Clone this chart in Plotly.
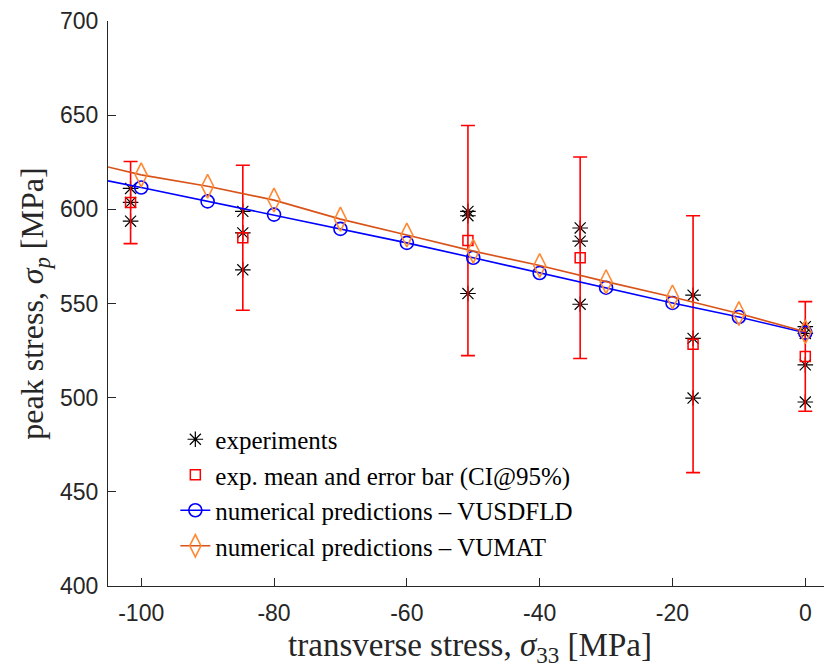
import plotly.graph_objects as go

# ---------------- data ----------------
# experiments (transverse stress, peak stress)
exp_x = [-101.6, -101.6, -101.6,
         -84.7, -84.7, -84.7,
         -50.8, -50.8, -50.8,
         -33.9, -33.9, -33.9,
         -16.9, -16.9, -16.9,
         0.0, 0.0, 0.0, 0.0]
exp_y = [611.1, 603.7, 593.7,
         598.9, 587.5, 567.9,
         598.9, 596.6, 555.3,
         590.1, 583.1, 549.6,
         554.4, 531.5, 499.8,
         537.7, 534.1, 517.4, 497.7]

# experimental means and 95% CI half-widths
mean_x = [-101.6, -84.7, -50.8, -33.9, -16.9, 0.0]
mean_y = [603.6, 584.9, 583.4, 574.3, 528.4, 521.9]
ci_half = [21.8, 38.5, 61.1, 53.5, 68.2, 29.1]

# numerical predictions
num_x = [-100, -90, -80, -70, -60, -50, -40, -30, -20, -10, 0]
vusdfld_y = [611.6, 604.2, 597.2, 589.6, 582.2, 574.3, 566.2, 558.4, 550.3, 542.8, 534.5]
vumat_y = [618.3, 612.3, 604.9, 594.8, 586.4, 577.8, 570.2, 561.6, 553.5, 544.7, 535.0]

# line continuation to the left axis edge
ext_x = [-105, -100]
vusdfld_ext = [615.1, 611.6]
vumat_ext = [622.5, 618.3]

x_ticks = [-100, -80, -60, -40, -20, 0]
x_tick_labels = ["-100", "-80", "-60", "-40", "-20", "0"]
y_ticks = [400, 450, 500, 550, 600, 650, 700]
y_tick_labels = ["400", "450", "500", "550", "600", "650", "700"]

# ---------------- styling ----------------
BLUE = "#0000FF"
ORANGE_LINE = "#D95319"
ORANGE_MARK = "#FF8833"
RED = "#FF0000"
AXIS = "#262626"
SERIF = "Liberation Serif, Times New Roman, serif"
SANS = "Liberation Sans, Arial, sans-serif"

fig = go.Figure()

fig.add_trace(go.Scatter(
    x=exp_x, y=exp_y, mode="markers", name="experiments",
    marker=dict(symbol="asterisk-open", size=13, color="black",
                line=dict(color="black", width=1.2)),
))

fig.add_trace(go.Scatter(
    x=mean_x, y=mean_y, mode="markers",
    name="exp. mean and error bar (CI@95%)",
    marker=dict(symbol="square-open", size=10, color=RED,
                line=dict(color=RED, width=1.5)),
    error_y=dict(type="data", array=ci_half, visible=True,
                 color=RED, thickness=1.6, width=7),
))

fig.add_trace(go.Scatter(
    x=ext_x, y=vusdfld_ext, mode="lines", showlegend=False,
    line=dict(color=BLUE, width=1.6), hoverinfo="skip",
))
fig.add_trace(go.Scatter(
    x=num_x, y=vusdfld_y, mode="lines+markers",
    name="numerical predictions – VUSDFLD",
    line=dict(color=BLUE, width=1.6),
    marker=dict(symbol="circle-open", size=13, color=BLUE,
                line=dict(color=BLUE, width=1.6)),
))

fig.add_trace(go.Scatter(
    x=ext_x, y=vumat_ext, mode="lines", showlegend=False,
    line=dict(color=ORANGE_LINE, width=1.6), hoverinfo="skip",
))
fig.add_trace(go.Scatter(
    x=num_x, y=vumat_y, mode="lines+markers",
    name="numerical predictions – VUMAT",
    line=dict(color=ORANGE_LINE, width=1.6),
    marker=dict(symbol="diamond-tall-open", size=17, color=ORANGE_MARK,
                line=dict(color=ORANGE_MARK, width=1.6)),
))

fig.update_layout(
    width=832, height=671,
    margin=dict(l=100, r=8, t=13, b=93),
    paper_bgcolor="white", plot_bgcolor="white",
    showlegend=True,
    legend=dict(
        x=0.093, y=0.300, xanchor="left", yanchor="top",
        bgcolor="rgba(255,255,255,0)", borderwidth=0,
        font=dict(family=SERIF, size=25, color="black"),
        traceorder="normal",
        itemwidth=30,
    ),
    xaxis=dict(
        range=[-105, 4.02], showgrid=False, zeroline=False,
        automargin=False,
        showline=True, linecolor=AXIS, linewidth=1.2,
        ticks="inside", ticklen=8, tickcolor=AXIS, tickwidth=1,
        tickvals=x_ticks, ticktext=x_tick_labels,
        tickfont=dict(family=SANS, size=23, color=AXIS),
        ticklabelstandoff=6, ticklabeloverflow="allow",
        title=dict(text="transverse stress, <i>σ</i><sub>33</sub> [MPa]",
                   font=dict(family=SERIF, size=33, color=AXIS), standoff=8),
    ),
    yaxis=dict(
        range=[400, 700], showgrid=False, zeroline=False,
        automargin=False,
        showline=True, linecolor=AXIS, linewidth=1.2,
        ticks="inside", ticklen=8, tickcolor=AXIS, tickwidth=1,
        tickvals=y_ticks, ticktext=y_tick_labels,
        tickfont=dict(family=SANS, size=23, color=AXIS),
        ticklabelstandoff=4, ticklabeloverflow="allow",
        title=dict(text="peak stress, <i>σ</i><sub><i>p</i></sub> [MPa]",
                   font=dict(family=SERIF, size=32, color=AXIS), standoff=6),
    ),
)

fig.write_html("out.html")
